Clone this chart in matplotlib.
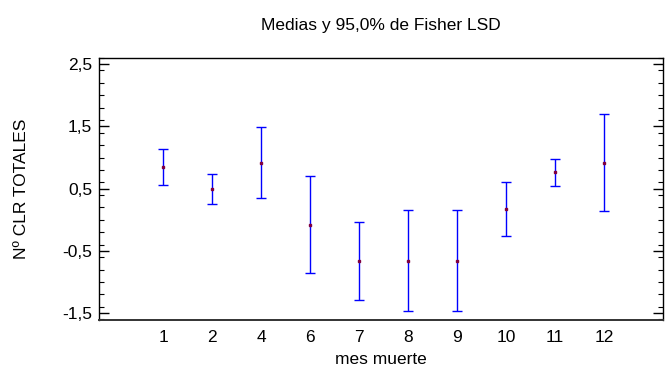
import matplotlib
matplotlib.use("Agg")
import matplotlib.pyplot as plt
from matplotlib.ticker import MultipleLocator

plt.rcParams['font.family'] = ['Liberation Sans', 'DejaVu Sans']

meses = ['1', '2', '4', '6', '7', '8', '9', '10', '11', '12']
medias = [0.855, 0.495, 0.92, -0.08, -0.66, -0.66, -0.66, 0.18, 0.77, 0.92]
sup = [1.14, 0.73, 1.49, 0.705, -0.04, 0.165, 0.165, 0.61, 0.98, 1.70]
inf = [0.565, 0.26, 0.35, -0.86, -1.29, -1.47, -1.47, -0.26, 0.55, 0.145]
yticks = [-1.5, -0.5, 0.5, 1.5, 2.5]
ytick_labels = ['-1,5', '-0,5', '0,5', '1,5', '2,5']

x = list(range(len(meses)))
err_lo = [m - l for m, l in zip(medias, inf)]
err_hi = [u - m for m, u in zip(medias, sup)]

fig = plt.figure(figsize=(6.65, 3.67), dpi=100)
ax = fig.add_axes([99/665, 1 - 320/367, (663-99)/665, (320-58)/367])

ax.errorbar(x, medias, yerr=[err_lo, err_hi], fmt='none', ecolor='#0000ff',
            elinewidth=1.0, capsize=3.8, capthick=1.0)
ax.plot(x, medias, 's', color='#800040', markersize=1.8, linestyle='none')

ax.set_xlim(-1.31, 10.2)
ax.set_ylim(-1.61, 2.6)
ax.set_xticks(x)
ax.set_xticklabels(meses)
ax.set_yticks(yticks)
ax.set_yticklabels(ytick_labels)
ax.yaxis.set_minor_locator(MultipleLocator(0.2))
ax.tick_params(axis='x', length=0, labelsize=12.5, pad=7)
ax.tick_params(axis='y', which='major', direction='in', length=7, width=1,
               left=True, right=True, labelsize=12.5, pad=5)
ax.tick_params(axis='y', which='minor', direction='in', length=3.5, width=0.8,
               left=True, right=True)
for s in ax.spines.values():
    s.set_linewidth(1.0)
ax.spines['bottom'].set_linewidth(1.4)
ax.spines['bottom'].set_color('#333333')

ax.set_title('Medias y 95,0% de Fisher LSD', fontsize=12.5, pad=20)
ax.set_xlabel('mes muerte', fontsize=12.5, labelpad=5)
ax.set_ylabel('Nº CLR TOTALES', fontsize=12.5, labelpad=24)

fig.savefig('out.png', dpi=100)
